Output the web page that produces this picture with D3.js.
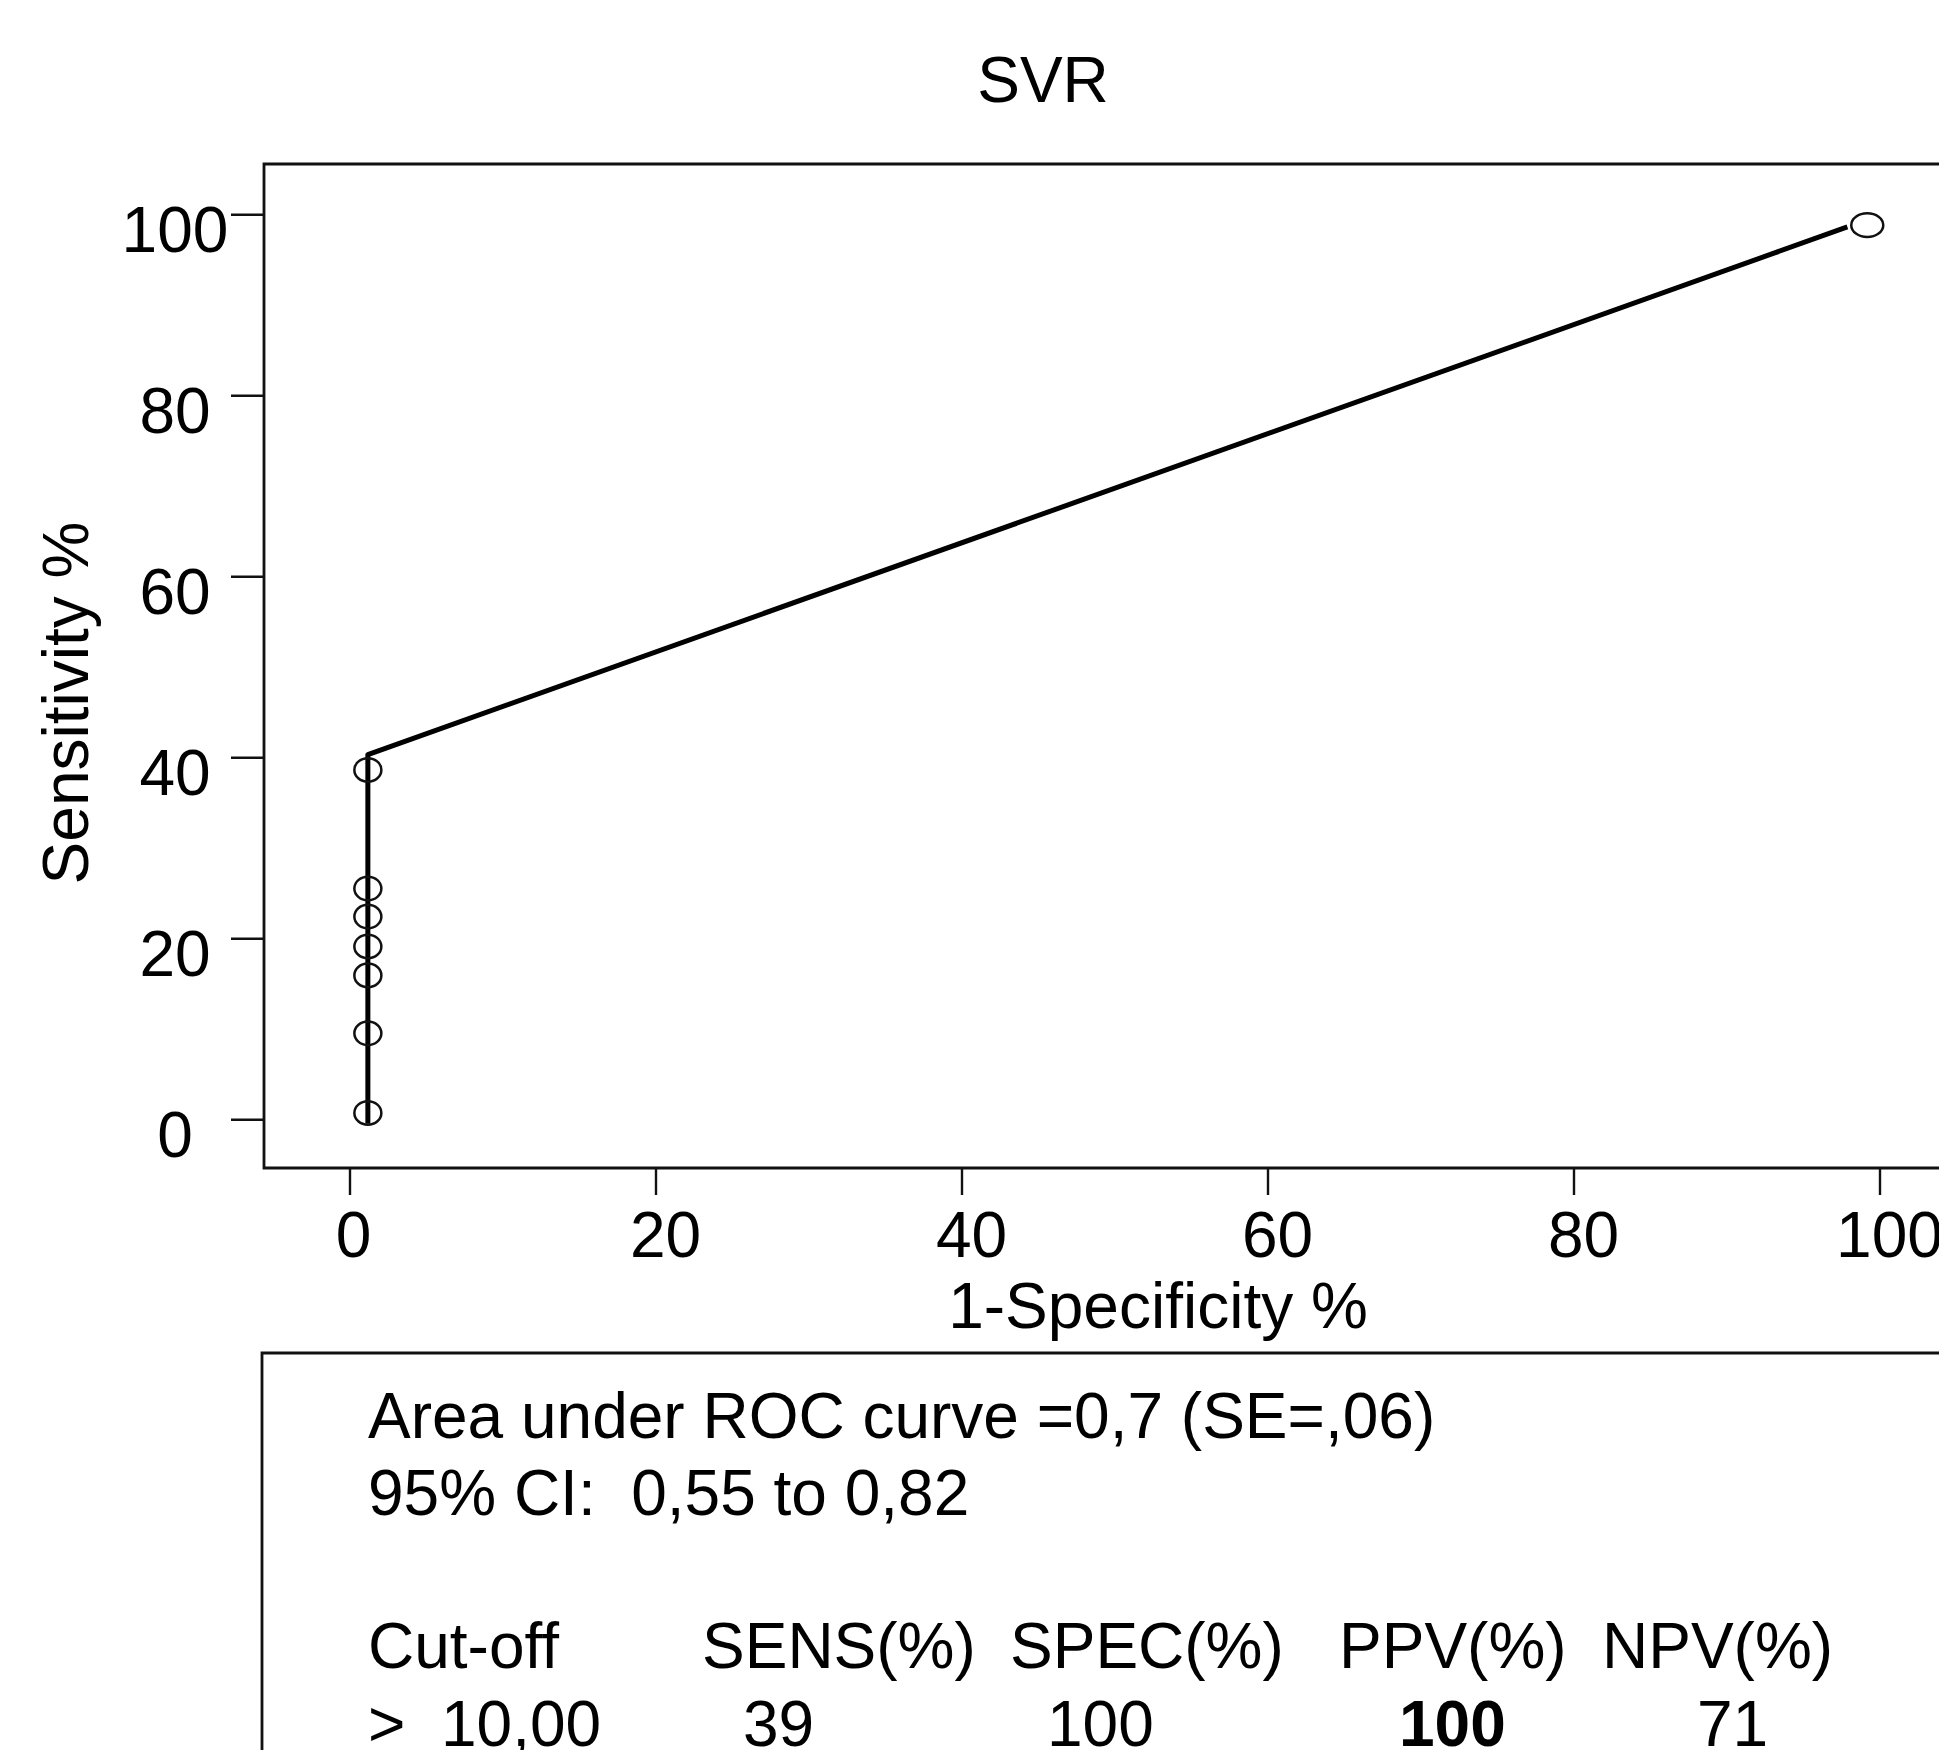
<html>
<head>
<title>SVR ROC</title>
<script src="https://cdn.jsdelivr.net/npm/d3@7/dist/d3.min.js"></script>
<style>
  body { margin: 0; background: #fff; }
  text { font-family: "Liberation Sans", Arial, sans-serif; fill: #000; }
</style>
</head>
<body>
<svg id="chart" width="1939" height="1750"></svg>

<script type="text/javascript">
  // ROC points (1-specificity %, sensitivity %)
  var markerX = [1.2, 1.2, 1.2, 1.2, 1.2, 1.2, 1.2, 99.2],
      markerY = [0.7, 9.5, 15.9, 19.1, 22.4, 25.5, 38.6, 98.8];
  var lineX = [1.2, 1.2, 97.9],
      lineY = [-0.5, 40.3, 98.6];
  var xTicks = [0, 20, 40, 60, 80, 100],
      yTicks = [0, 20, 40, 60, 80, 100];

  var title = "SVR",
      xLabel = "1-Specificity %",
      yLabel = "Sensitivity %";

  var statLines = ["Area under ROC curve =0,7 (SE=,06)", "95% CI:  0,55 to 0,82"];
  var tableHeader = ["Cut-off", "SENS(%)", "SPEC(%)", "PPV(%)", "NPV(%)"];
  var tableRow = [">", "10,00", "39", "100", "100", "71"];
  var rowBold = [false, false, false, false, true, false];

  var svg = d3.select("#chart");
  svg.append("rect").attr("width", 1939).attr("height", 1750).attr("fill", "#fff");

  var x = d3.scaleLinear().domain([0, 100]).range([349.5, 1879.5]),
      y = d3.scaleLinear().domain([0, 100]).range([1119.3, 214.3]);

  var fs = 64;

  // title
  svg.append("text")
      .attr("x", 1043).attr("y", 102)
      .attr("text-anchor", "middle")
      .style("font-size", fs + "px")
      .text(title);

  // plot frame (runs off the right edge)
  svg.append("path")
      .attr("d", "M1960,164 H264 V1168 H1960")
      .attr("fill", "none")
      .attr("stroke", "#111")
      .attr("stroke-width", 2.8);

  // y axis
  var yAxis = svg.append("g")
      .attr("transform", "translate(264,0)")
      .call(d3.axisLeft(y).tickValues(yTicks).tickSize(33).tickFormat(""));
  yAxis.select(".domain").remove();
  yAxis.selectAll(".tick line").attr("stroke", "#111").attr("stroke-width", 2.4);

  svg.append("g").selectAll("text")
    .data(yTicks)
    .enter().append("text")
      .attr("x", 175)
      .attr("y", function(d) { return y(d) + 38; })
      .attr("text-anchor", "middle")
      .style("font-size", fs + "px")
      .text(function(d) { return d; });

  // x axis
  var xAxis = svg.append("g")
      .attr("transform", "translate(0,1169)")
      .call(d3.axisBottom(x).tickValues(xTicks).tickSize(26).tickFormat(""));
  xAxis.select(".domain").remove();
  xAxis.selectAll(".tick line").attr("stroke", "#111").attr("stroke-width", 2.4);

  svg.append("g").selectAll("text")
    .data(xTicks)
    .enter().append("text")
      .attr("x", function(d) { return x(d) + (d === 0 ? 4 : 10); })
      .attr("y", 1257)
      .attr("text-anchor", "middle")
      .style("font-size", fs + "px")
      .text(function(d) { return d; });

  // axis titles
  svg.append("text")
      .attr("x", 1158).attr("y", 1328)
      .attr("text-anchor", "middle")
      .style("font-size", fs + "px")
      .text(xLabel);

  svg.append("text")
      .attr("transform", "translate(88,703) rotate(-90)")
      .attr("text-anchor", "middle")
      .style("font-size", fs + "px")
      .text(yLabel);

  // ROC curve
  var line = d3.line()
      .x(function(d) { return x(d[0]); })
      .y(function(d) { return y(d[1]); });

  svg.append("path")
      .datum(d3.zip(lineX, lineY))
      .attr("d", line)
      .attr("fill", "none")
      .attr("stroke", "#000")
      .attr("stroke-width", 5)
      .attr("stroke-linejoin", "round");

  svg.append("g").selectAll("ellipse")
    .data(d3.zip(markerX, markerY))
    .enter().append("ellipse")
      .attr("cx", function(d) { return x(d[0]); })
      .attr("cy", function(d) { return y(d[1]); })
      .attr("rx", function(d) { return d[0] > 50 ? 16 : 13.5; })
      .attr("ry", 11.8)
      .attr("fill", "none")
      .attr("stroke", "#111")
      .attr("stroke-width", 2.5);

  // stats box
  svg.append("path")
      .attr("d", "M1960,1353 H262 V1760")
      .attr("fill", "none")
      .attr("stroke", "#111")
      .attr("stroke-width", 2.8);

  svg.append("g").selectAll("text")
    .data(statLines)
    .enter().append("text")
      .attr("x", 368)
      .attr("y", function(d, i) { return 1438 + i * 77; })
      .attr("xml:space", "preserve")
      .style("white-space", "pre")
      .style("font-size", fs + "px")
      .text(function(d) { return d; });

  var headerX = [368, 702, 1010, 1339, 1602],
      rowX = [368, 441, 743, 1047, 1399, 1697];

  svg.append("g").selectAll("text")
    .data(tableHeader)
    .enter().append("text")
      .attr("x", function(d, i) { return headerX[i]; })
      .attr("y", 1668)
      .style("font-size", fs + "px")
      .text(function(d) { return d; });

  svg.append("g").selectAll("text")
    .data(tableRow)
    .enter().append("text")
      .attr("x", function(d, i) { return rowX[i]; })
      .attr("y", 1746)
      .style("font-size", fs + "px")
      .style("font-weight", function(d, i) { return rowBold[i] ? "bold" : "normal"; })
      .text(function(d) { return d; });
</script>
</body>
</html>
